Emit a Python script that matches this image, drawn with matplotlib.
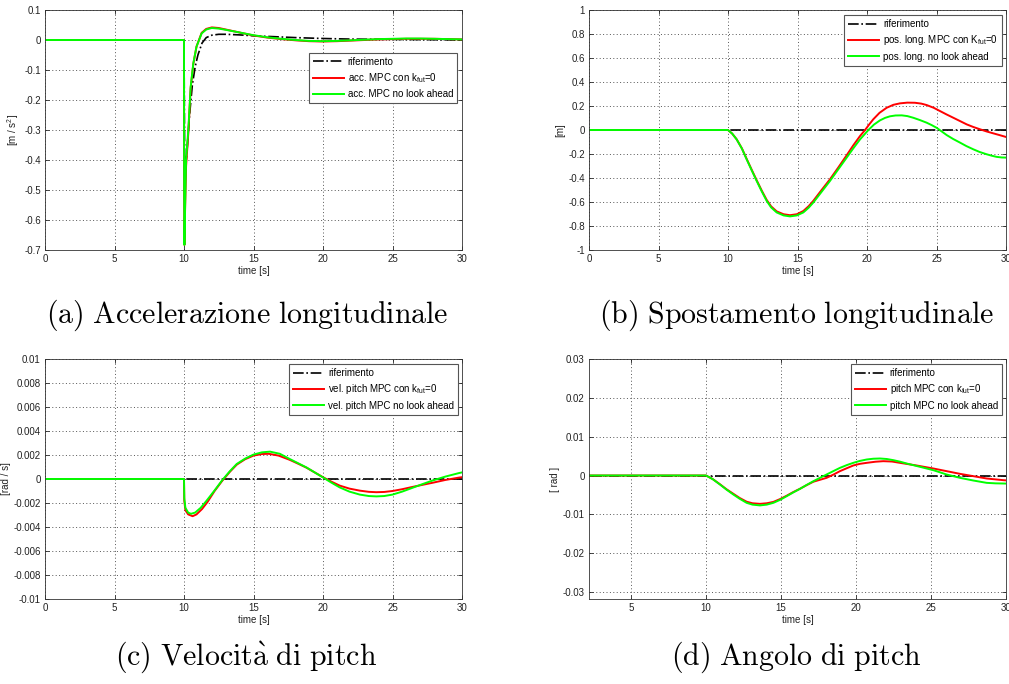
import matplotlib
matplotlib.use("Agg")
import matplotlib.pyplot as plt
import numpy as np

plt.rcParams['font.family'] = ['Liberation Sans', 'DejaVu Sans']
plt.rcParams['mathtext.fontset'] = 'custom'
plt.rcParams['mathtext.rm'] = 'Liberation Sans'
plt.rcParams['mathtext.it'] = 'Liberation Sans'

#region data
# (a) longitudinal acceleration
acc_t = [0, 10, 10.01, 10.03, 10.08, 10.15, 10.31, 10.48, 10.67, 10.9, 11.27, 11.6, 12.0, 12.5, 13.0,
         14.0, 15.0, 16.0, 17.0, 18.0, 19.0, 20.0, 21.0, 22.0, 23.0, 24.0, 25.0, 26.0, 27.0, 28.0, 29.0, 30.0]
acc_green = [0, 0, -0.5, -0.683, -0.55, -0.40, -0.30, -0.156, -0.078, -0.022, 0.022, 0.035, 0.040, 0.038, 0.034,
             0.025, 0.016, 0.009, 0.004, 0.0, -0.003, -0.004, -0.003, -0.001, 0.001, 0.003, 0.004, 0.005, 0.005, 0.004, 0.003, 0.002]
acc_red = [0, 0, -0.5, -0.683, -0.56, -0.42, -0.31, -0.16, -0.08, -0.022, 0.024, 0.037, 0.042, 0.040, 0.035,
           0.025, 0.015, 0.008, 0.003, -0.001, -0.004, -0.005, -0.004, -0.002, 0.0, 0.002, 0.003, 0.004, 0.004, 0.004, 0.003, 0.002]
acc_ref_t = [0, 10, 10.05, 10.2, 10.4, 10.6, 10.8, 11.0, 11.3, 11.6, 12.0, 12.5, 13.0, 14.0, 15.0,
             16.0, 17.0, 18.0, 20.0, 22.0, 25.0, 28.0, 30.0]
acc_ref = [0, 0, -0.45, -0.38, -0.25, -0.15, -0.09, -0.05, -0.01, 0.008, 0.016, 0.019, 0.019, 0.017, 0.014,
           0.012, 0.010, 0.008, 0.005, 0.003, 0.002, 0.001, 0.0]

# (b) longitudinal position
pos_t = [0, 10.0, 10.3, 10.62, 11.0, 11.34, 11.7, 12.06, 12.42, 12.78, 13.1, 13.5, 14.0, 14.46, 14.95, 15.42,
         15.8, 16.14, 16.7, 17.34, 17.95, 18.54, 19.0, 19.5, 20.1, 20.5, 20.93, 21.3, 21.65, 22.05, 22.5, 22.9,
         23.33, 23.8, 24.29, 24.65, 25.0, 25.35, 25.73, 26.2, 26.69, 27.15, 27.65, 28.1, 28.6, 29.0, 29.33, 29.7, 30.0]
pos_green = [0, 0, -0.03, -0.078, -0.155, -0.244, -0.335, -0.424, -0.51, -0.59, -0.645, -0.687, -0.712, -0.72,
             -0.712, -0.687, -0.648, -0.604, -0.52, -0.424, -0.325, -0.23, -0.155, -0.078, 0.0, 0.045,
             0.08, 0.101, 0.114, 0.121, 0.122, 0.116, 0.102, 0.083, 0.061, 0.041, 0.019, -0.01, -0.042,
             -0.075, -0.105, -0.134, -0.161, -0.183, -0.202, -0.215, -0.224, -0.229, -0.23]
pos_red_t = [0, 10.0, 10.3, 10.62, 11.0, 11.34, 11.7, 12.06, 12.42, 12.78, 13.1, 13.5, 14.0, 14.46, 14.95, 15.42,
             15.8, 16.14, 16.7, 17.34, 17.95, 18.54, 19.0, 19.5, 19.86, 20.15, 20.45, 20.9, 21.41, 21.9, 22.37,
             22.9, 23.45, 23.9, 24.29, 24.8, 25.25, 25.7, 26.21, 26.7, 27.17, 27.65, 28.13, 28.6, 29.09, 29.55, 30.0]
pos_red = [0, 0, -0.03, -0.077, -0.153, -0.24, -0.33, -0.418, -0.503, -0.582, -0.636, -0.678, -0.702, -0.71,
           -0.702, -0.675, -0.635, -0.59, -0.505, -0.41, -0.31, -0.21, -0.13, -0.05, 0.0, 0.045,
           0.089, 0.143, 0.185, 0.21, 0.222, 0.228, 0.227, 0.22, 0.208, 0.185, 0.158, 0.131, 0.102, 0.074,
           0.047, 0.025, 0.006, -0.012, -0.028, -0.043, -0.058]

# (c) pitch rate
vel_t = [0, 10, 10.02, 10.1, 10.3, 10.5, 10.8, 11.2, 11.63, 12.2, 12.75, 13.3, 13.79, 14.4, 14.99, 15.6,
         16.19, 16.9, 17.6, 18.2, 18.8, 19.4, 20.0, 20.6, 21.2, 21.9, 22.65, 23.3, 23.84, 24.4, 25.0,
         25.7, 26.4, 27.1, 27.9, 28.8, 29.8, 30]
vel_green = [0, 0, -1.6, -2.4, -2.8, -2.9, -2.8, -2.4, -1.8, -0.95, -0.1, 0.65, 1.25, 1.7, 2.03, 2.22,
             2.28, 2.1, 1.67, 1.32, 0.97, 0.55, 0.13, -0.3, -0.7, -1.05, -1.3, -1.42, -1.45, -1.42, -1.3,
             -1.05, -0.75, -0.45, -0.12, 0.2, 0.5, 0.55]
vel_red_t = [0, 10, 10.02, 10.1, 10.3, 10.62, 10.9, 11.3, 11.7, 12.2, 12.75, 13.3, 13.8, 14.4, 15.0, 15.6,
             16.1, 16.8, 17.6, 18.2, 18.8, 19.4, 20.0, 20.6, 21.2, 21.9, 22.65, 23.3, 23.84, 24.4, 25.0,
             25.7, 26.4, 27.1, 27.9, 28.8, 29.8, 30]
vel_red = [0, 0, -1.8, -2.6, -2.95, -3.1, -2.95, -2.5, -1.9, -1.0, -0.15, 0.6, 1.2, 1.65, 1.95, 2.08,
           2.1, 1.95, 1.6, 1.28, 0.95, 0.55, 0.15, -0.22, -0.55, -0.8, -0.97, -1.07, -1.1, -1.08, -1.0,
           -0.85, -0.67, -0.5, -0.31, -0.08, 0.12, 0.15]

# (d) pitch angle
ang_t = [0, 10.0, 10.45, 10.93, 11.37, 11.82, 12.25, 12.71, 13.1, 13.6, 14.05, 14.49, 14.95, 15.38, 15.8,
         16.27, 16.7, 17.16, 17.6, 18.04, 18.5, 18.93, 19.4, 19.82, 20.25, 20.71, 21.15, 21.6, 22.05, 22.49,
         22.95, 23.38, 24.27, 25.16, 26.04, 26.93, 27.82, 28.71, 29.3, 29.82, 30.0]
ang_green = [0, 0, -0.95, -2.32, -3.65, -4.89, -6.0, -7.04, -7.5, -7.7, -7.5, -7.04, -6.25, -5.32, -4.4,
             -3.43, -2.45, -1.46, -0.6, 0.26, 1.15, 1.97, 2.7, 3.26, 3.75, 4.12, 4.32, 4.38, 4.25, 3.95,
             3.55, 3.09, 2.23, 1.37, 0.26, -0.6, -1.29, -1.89, -2.02, -2.06, -2.08]
ang_red_t = [0, 10.0, 10.45, 10.93, 11.37, 11.82, 12.25, 12.71, 13.1, 13.6, 14.05, 14.49, 14.95, 15.38, 15.8,
             16.27, 16.7, 17.16, 17.6, 18.04, 18.5, 18.93, 19.4, 19.82, 20.25, 20.71, 21.3, 21.82, 22.4,
             22.93, 24.04, 25.16, 26.04, 26.93, 27.82, 28.71, 29.3, 29.82, 30.0]
ang_red = [0, 0, -0.92, -2.25, -3.55, -4.7, -5.8, -6.75, -7.15, -7.3, -7.15, -6.8, -6.05, -5.2, -4.3,
           -3.4, -2.5, -1.6, -1.1, -0.6, 0.25, 1.12, 1.9, 2.58, 3.0, 3.26, 3.55, 3.69, 3.6,
           3.26, 2.58, 1.8, 1.12, 0.43, -0.17, -0.77, -1.0, -1.2, -1.25]
#endregion

fig = plt.figure(figsize=(10.09, 6.84), dpi=100)


def fmt(v, nd):
    return '%g' % (round(v, nd) + 0.0)


W, H = 417 / 1009, 240 / 684
panels = [
    dict(pos=(45 / 1009, 1 - 250 / 684), xlim=(0, 30), ylim=(-0.7, 0.1), yticks=np.arange(-0.7, 0.11, 0.1), nd=2,
         ylabel='[m / s$^2$]', ref=(acc_ref_t, acc_ref), red=(acc_t, acc_red), green=(acc_t, acc_green),
         labels=['riferimento', 'acc. MPC con k$_{\\mathrm{fut}}$=0', 'acc. MPC no look ahead'],
         anchor=(0.988, 0.821)),
    dict(pos=(589 / 1009, 1 - 250 / 684), xlim=(0, 30), ylim=(-1, 1), yticks=np.arange(-1, 1.01, 0.2), nd=2,
         ylabel='[m]', ref=([0, 30], [0, 0]), red=(pos_red_t, pos_red), green=(pos_t, pos_green),
         labels=['riferimento', 'pos. long. MPC con K$_{\\mathrm{fut}}$=0', 'pos. long. no look ahead'],
         anchor=(0.990, 0.979)),
    dict(pos=(45 / 1009, 1 - 599 / 684), xlim=(0, 30), ylim=(-0.01, 0.01), yticks=np.arange(-0.01, 0.0101, 0.002), nd=4,
         ylabel='[rad / s]', ref=([0, 30], [0, 0]),
         red=(vel_red_t, np.array(vel_red) * 1e-3), green=(vel_t, np.array(vel_green) * 1e-3),
         labels=['riferimento', 'vel. pitch MPC con k$_{\\mathrm{fut}}$=0', 'vel. pitch MPC no look ahead'],
         anchor=(0.990, 0.979)),
    dict(pos=(589 / 1009, 1 - 599 / 684), xlim=(2.2, 30), ylim=(-0.0318, 0.03), yticks=np.arange(-0.03, 0.031, 0.01), nd=3,
         ylabel='[ rad ]', ref=([0, 30], [0, 0]),
         red=(ang_red_t, np.array(ang_red) * 1e-3), green=(ang_t, np.array(ang_green) * 1e-3),
         labels=['riferimento', 'pitch MPC con k$_{\\mathrm{fut}}$=0', 'pitch MPC no look ahead'],
         anchor=(0.990, 0.979)),
]

for p in panels:
    ax = fig.add_axes([p['pos'][0], p['pos'][1], W, H])
    l0, = ax.plot(p['ref'][0], p['ref'][1], color='black', ls='-.', lw=1.2)
    l1, = ax.plot(p['red'][0], p['red'][1], color='#ff0000', lw=1.4)
    l2, = ax.plot(p['green'][0], p['green'][1], color='#00ff00', lw=1.4)
    ax.set_xlim(*p['xlim'])
    ax.set_ylim(*p['ylim'])
    ax.set_xticks([t for t in range(0, 31, 5) if t >= p['xlim'][0]])
    ax.set_yticks(p['yticks'])
    ax.set_yticklabels([fmt(v, p['nd']) for v in p['yticks']])
    ax.grid(True, ls=(0, (1, 2.5)), color='#555555', lw=0.7)
    ax.tick_params(labelsize=7, direction='in', length=3, width=0.5, top=True, right=True, pad=3,
                   labelcolor='#222222')
    for s in ax.spines.values():
        s.set_linewidth(0.6)
        s.set_color('#333333')
    ax.set_xlabel('time [s]', fontsize=7, labelpad=1, color='#222222')
    ax.set_ylabel(p['ylabel'], fontsize=7, labelpad=2, color='#222222')
    leg = ax.legend([l0, l1, l2], p['labels'], loc='upper right', bbox_to_anchor=p['anchor'],
                    borderaxespad=0, fontsize=7, fancybox=False, framealpha=1, edgecolor='#555555',
                    handlelength=3.2, handletextpad=0.4, labelspacing=0.45, borderpad=0.4)
    leg.get_frame().set_linewidth(0.8)

captions = [(247, 315, r'$\mathrm{(a)\ Accelerazione\ longitudinale}$'),
            (797, 315, r'$\mathrm{(b)\ Spostamento\ longitudinale}$'),
            (246, 657, r'$\mathrm{(c)\ Velocit\grave{a}\ di\ pitch}$'),
            (796, 657, r'$\mathrm{(d)\ Angolo\ di\ pitch}$')]
for x, y, txt in captions:
    fig.text(x / 1009, 1 - y / 684, txt, ha='center', va='center', fontsize=21.5, math_fontfamily='cm')

plt.savefig('out.png', dpi=100)
